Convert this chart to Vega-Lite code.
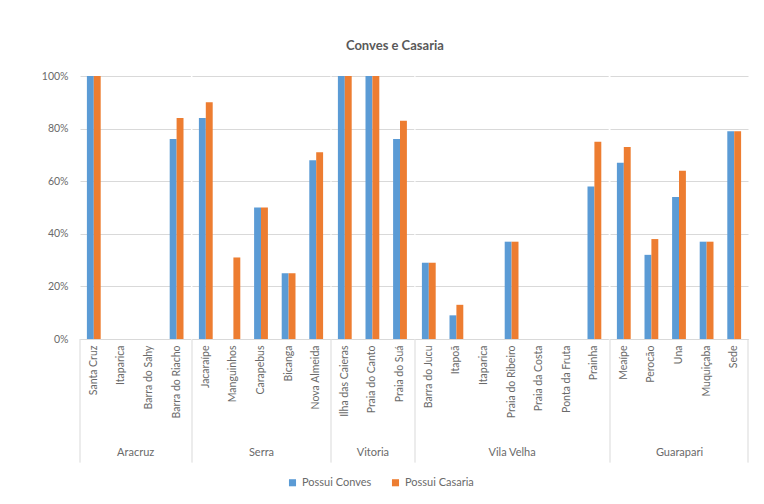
{
  "$schema": "https://vega.github.io/schema/vega-lite/v6.json",
  "padding": {"left": 41, "top": 40, "right": 10, "bottom": 5},
  "background": "white",
  "title": {"text": "Conves e Casaria", "fontSize": 13, "font": "Lato", "fontWeight": "bold", "color": "#595959", "offset": 18, "anchor": "middle"},
  "config": {
    "view": {"stroke": null},
    "font": "Lato",
    "axisX": {"labelAngle": -90, "labelFont": "Lato", "labelFontSize": 10.5, "labelColor": "#6a6a6a", "ticks": false, "domain": true, "domainColor": "#d9d9d9", "grid": false, "labelPadding": 6, "titleFont": "Lato", "titleFontSize": 11, "titleFontWeight": "normal", "titleColor": "#6a6a6a", "titleY": 113, "titleBaseline": "middle"},
    "axisY": {"domain": false, "ticks": false, "gridColor": "#d9d9d9", "labelFont": "Lato", "labelFontSize": 10.5, "labelColor": "#6a6a6a", "labelPadding": 12},
    "rule": {"color": "#d9d9d9"}
  },
  "data": {"values": [
    {"municipio": "Aracruz", "local": "Santa Cruz", "Possui Conves": 1, "Possui Casaria": 1},
    {"municipio": "Aracruz", "local": "Itaparica", "Possui Conves": 0, "Possui Casaria": 0},
    {"municipio": "Aracruz", "local": "Barra do Sahy", "Possui Conves": 0, "Possui Casaria": 0},
    {"municipio": "Aracruz", "local": "Barra do Riacho", "Possui Conves": 0.76, "Possui Casaria": 0.84},
    {"municipio": "Serra", "local": "Jacaraípe", "Possui Conves": 0.84, "Possui Casaria": 0.90},
    {"municipio": "Serra", "local": "Manguinhos", "Possui Conves": 0, "Possui Casaria": 0.31},
    {"municipio": "Serra", "local": "Carapebus", "Possui Conves": 0.50, "Possui Casaria": 0.50},
    {"municipio": "Serra", "local": "Bicanga", "Possui Conves": 0.25, "Possui Casaria": 0.25},
    {"municipio": "Serra", "local": "Nova Almeida", "Possui Conves": 0.68, "Possui Casaria": 0.71},
    {"municipio": "Vitoria", "local": "Ilha das Caieras", "Possui Conves": 1, "Possui Casaria": 1},
    {"municipio": "Vitoria", "local": "Praia do Canto", "Possui Conves": 1, "Possui Casaria": 1},
    {"municipio": "Vitoria", "local": "Praia do Suá", "Possui Conves": 0.76, "Possui Casaria": 0.83},
    {"municipio": "Vila Velha", "local": "Barra do Jucu", "Possui Conves": 0.29, "Possui Casaria": 0.29},
    {"municipio": "Vila Velha", "local": "Itapoã", "Possui Conves": 0.09, "Possui Casaria": 0.13},
    {"municipio": "Vila Velha", "local": "Itaparica", "Possui Conves": 0, "Possui Casaria": 0},
    {"municipio": "Vila Velha", "local": "Praia do Ribeiro", "Possui Conves": 0.37, "Possui Casaria": 0.37},
    {"municipio": "Vila Velha", "local": "Praia da Costa", "Possui Conves": 0, "Possui Casaria": 0},
    {"municipio": "Vila Velha", "local": "Ponta da Fruta", "Possui Conves": 0, "Possui Casaria": 0},
    {"municipio": "Vila Velha", "local": "Prainha", "Possui Conves": 0.58, "Possui Casaria": 0.75},
    {"municipio": "Guarapari", "local": "Meaípe", "Possui Conves": 0.67, "Possui Casaria": 0.73},
    {"municipio": "Guarapari", "local": "Perocão", "Possui Conves": 0.32, "Possui Casaria": 0.38},
    {"municipio": "Guarapari", "local": "Una", "Possui Conves": 0.54, "Possui Casaria": 0.64},
    {"municipio": "Guarapari", "local": "Muquiçaba", "Possui Conves": 0.37, "Possui Casaria": 0.37},
    {"municipio": "Guarapari", "local": "Sede", "Possui Conves": 0.79, "Possui Casaria": 0.79}
  ]},
  "transform": [{"fold": ["Possui Conves", "Possui Casaria"], "as": ["serie", "valor"]}],
  "spacing": 0,
  "resolve": {"scale": {"x": "independent", "y": "shared", "color": "shared"}},
  "hconcat": [
    {
      "width": 110.4, "height": 263,
      "transform": [{"filter": "datum.municipio == 'Aracruz'"}],
      "encoding": {"x": {"field": "local", "type": "nominal", "sort": null, "title": "Aracruz", "scale": {"type": "band", "paddingInner": 0, "paddingOuter": 0}}},
      "layer": [
        {
          "mark": "bar",
          "encoding": {
            "xOffset": {"field": "serie", "type": "nominal", "sort": ["Possui Conves", "Possui Casaria"], "scale": {"paddingInner": 0, "paddingOuter": 1.2}},
            "y": {"field": "valor", "type": "quantitative", "title": null, "scale": {"domain": [0, 1]}, "axis": {"format": ".0%", "values": [0, 0.2, 0.4, 0.6, 0.8, 1]}},
            "color": {"field": "serie", "type": "nominal", "scale": {"domain": ["Possui Conves", "Possui Casaria"], "range": ["#5B9BD5", "#ED7D31"]},
              "legend": {"orient": "none", "direction": "horizontal", "title": null, "symbolType": "square", "symbolSize": 50, "labelFont": "Lato", "labelFontSize": 11, "labelColor": "#6a6a6a", "columnPadding": 18, "legendX": 207, "legendY": 401}}
          }
        },
        {
          "transform": [{"filter": "datum.serie == 'Possui Conves'"}, {"window": [{"op": "row_number", "as": "rn"}]}, {"filter": "datum.rn == 1"}],
          "mark": "rule",
          "encoding": {"x": {"field": "local", "type": "nominal", "sort": null, "bandPosition": 0}, "y": {"datum": 0}, "y2": {"datum": -0.47}}
        }
      ]
    },
    {
      "width": 138, "height": 263,
      "transform": [{"filter": "datum.municipio == 'Serra'"}],
      "encoding": {"x": {"field": "local", "type": "nominal", "sort": null, "title": "Serra", "scale": {"type": "band", "paddingInner": 0, "paddingOuter": 0}}},
      "layer": [
        {
          "mark": "bar",
          "encoding": {
            "xOffset": {"field": "serie", "type": "nominal", "sort": ["Possui Conves", "Possui Casaria"], "scale": {"paddingInner": 0, "paddingOuter": 1.2}},
            "y": {"field": "valor", "type": "quantitative", "title": null, "scale": {"domain": [0, 1]}, "axis": {"labels": false, "minExtent": 0, "values": [0, 0.2, 0.4, 0.6, 0.8, 1]}},
            "color": {"field": "serie", "type": "nominal"}
          }
        },
        {
          "transform": [{"filter": "datum.serie == 'Possui Conves'"}, {"window": [{"op": "row_number", "as": "rn"}]}, {"filter": "datum.rn == 1"}],
          "mark": "rule",
          "encoding": {"x": {"field": "local", "type": "nominal", "sort": null, "bandPosition": 0}, "y": {"datum": 0}, "y2": {"datum": -0.47}}
        }
      ]
    },
    {
      "width": 82.8, "height": 263,
      "transform": [{"filter": "datum.municipio == 'Vitoria'"}],
      "encoding": {"x": {"field": "local", "type": "nominal", "sort": null, "title": "Vitoria", "scale": {"type": "band", "paddingInner": 0, "paddingOuter": 0}}},
      "layer": [
        {
          "mark": "bar",
          "encoding": {
            "xOffset": {"field": "serie", "type": "nominal", "sort": ["Possui Conves", "Possui Casaria"], "scale": {"paddingInner": 0, "paddingOuter": 1.2}},
            "y": {"field": "valor", "type": "quantitative", "title": null, "scale": {"domain": [0, 1]}, "axis": {"labels": false, "minExtent": 0, "values": [0, 0.2, 0.4, 0.6, 0.8, 1]}},
            "color": {"field": "serie", "type": "nominal"}
          }
        },
        {
          "transform": [{"filter": "datum.serie == 'Possui Conves'"}, {"window": [{"op": "row_number", "as": "rn"}]}, {"filter": "datum.rn == 1"}],
          "mark": "rule",
          "encoding": {"x": {"field": "local", "type": "nominal", "sort": null, "bandPosition": 0}, "y": {"datum": 0}, "y2": {"datum": -0.47}}
        }
      ]
    },
    {
      "width": 193.2, "height": 263,
      "transform": [{"filter": "datum.municipio == 'Vila Velha'"}],
      "encoding": {"x": {"field": "local", "type": "nominal", "sort": null, "title": "Vila Velha", "scale": {"type": "band", "paddingInner": 0, "paddingOuter": 0}}},
      "layer": [
        {
          "mark": "bar",
          "encoding": {
            "xOffset": {"field": "serie", "type": "nominal", "sort": ["Possui Conves", "Possui Casaria"], "scale": {"paddingInner": 0, "paddingOuter": 1.2}},
            "y": {"field": "valor", "type": "quantitative", "title": null, "scale": {"domain": [0, 1]}, "axis": {"labels": false, "minExtent": 0, "values": [0, 0.2, 0.4, 0.6, 0.8, 1]}},
            "color": {"field": "serie", "type": "nominal"}
          }
        },
        {
          "transform": [{"filter": "datum.serie == 'Possui Conves'"}, {"window": [{"op": "row_number", "as": "rn"}]}, {"filter": "datum.rn == 1"}],
          "mark": "rule",
          "encoding": {"x": {"field": "local", "type": "nominal", "sort": null, "bandPosition": 0}, "y": {"datum": 0}, "y2": {"datum": -0.47}}
        }
      ]
    },
    {
      "width": 138, "height": 263,
      "transform": [{"filter": "datum.municipio == 'Guarapari'"}],
      "encoding": {"x": {"field": "local", "type": "nominal", "sort": null, "title": "Guarapari", "scale": {"type": "band", "paddingInner": 0, "paddingOuter": 0}}},
      "layer": [
        {
          "mark": "bar",
          "encoding": {
            "xOffset": {"field": "serie", "type": "nominal", "sort": ["Possui Conves", "Possui Casaria"], "scale": {"paddingInner": 0, "paddingOuter": 1.2}},
            "y": {"field": "valor", "type": "quantitative", "title": null, "scale": {"domain": [0, 1]}, "axis": {"labels": false, "minExtent": 0, "values": [0, 0.2, 0.4, 0.6, 0.8, 1]}},
            "color": {"field": "serie", "type": "nominal"}
          }
        },
        {
          "transform": [{"filter": "datum.serie == 'Possui Conves'"}, {"window": [{"op": "row_number", "as": "rn"}]}, {"filter": "datum.rn == 1"}],
          "mark": "rule",
          "encoding": {"x": {"field": "local", "type": "nominal", "sort": null, "bandPosition": 0}, "y": {"datum": 0}, "y2": {"datum": -0.47}}
        },
        {
          "transform": [{"filter": "datum.serie == 'Possui Conves'"}, {"window": [{"op": "row_number", "as": "rn"}]}, {"joinaggregate": [{"op": "count", "as": "n"}]}, {"filter": "datum.rn == datum.n"}],
          "mark": "rule",
          "encoding": {"x": {"field": "local", "type": "nominal", "sort": null, "bandPosition": 1}, "y": {"datum": 0}, "y2": {"datum": -0.47}}
        }
      ]
    }
  ]
}
